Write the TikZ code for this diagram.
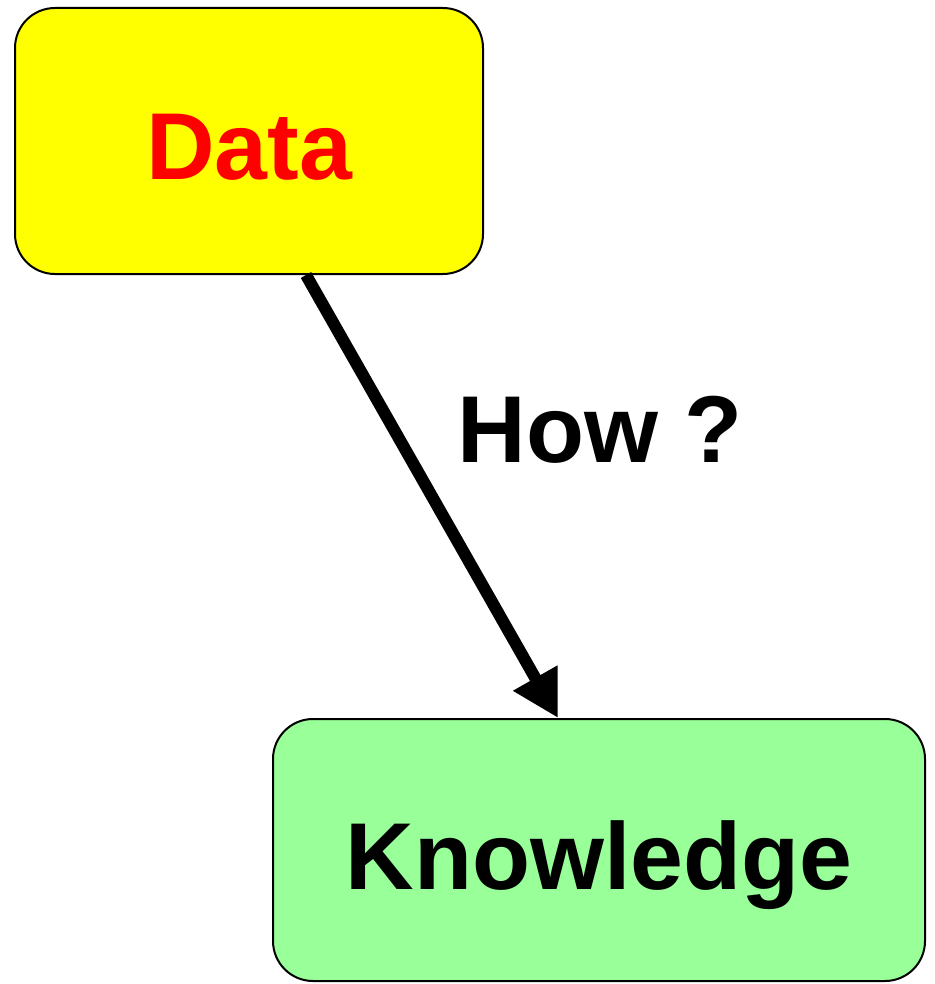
\documentclass[tikz,border=0pt]{standalone}
\usepackage{fontspec}
\setmainfont{Liberation Sans}
\usetikzlibrary{arrows.meta}
\definecolor{boxyellow}{HTML}{FFFF00}
\definecolor{boxgreen}{HTML}{99FF99}
\definecolor{datared}{HTML}{FF0000}
\begin{document}
\begin{tikzpicture}[x=1pt,y=-1pt,
  box/.style={draw=black,line width=2pt,rounded corners=40pt,inner sep=0pt,
    text height=78pt,text depth=0pt,
    font=\fontsize{95}{100}\selectfont\bfseries},
  flow/.style={line width=12pt,-{Triangle[length=46pt,width=48pt]}}]
\useasboundingbox (0,0) rectangle (934,984);
\node[box,fill=boxyellow,text=datared,minimum width=468pt,minimum height=266pt] (data) at (249,141) {Data};
\node[box,fill=boxgreen,minimum width=652pt,minimum height=262pt] (know) at (599,850) {Knowledge};
\node[font=\fontsize{95}{100}\selectfont\bfseries,inner sep=0pt] (how) at (600,430) {How ?};
\draw[flow] ([xshift=57pt]data.south) -- ([xshift=-41pt]know.north);
\end{tikzpicture}
\end{document}
